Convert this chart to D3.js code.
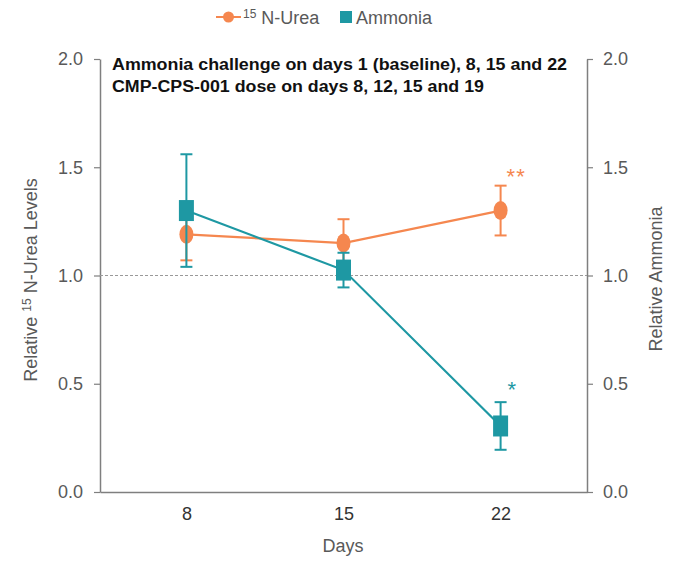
<!DOCTYPE html>
<html>
<head>
<meta charset="utf-8">
<script src="https://cdn.jsdelivr.net/npm/d3@7"></script>
<style>
  body { margin: 0; background: #fff; }
  svg text { font-family: "Liberation Sans", Arial, sans-serif; }
</style>
</head>
<body>
<script>
// data
const days = [8, 15, 22];
const ureaMean = [1.19, 1.15, 1.30];
const ureaErr = [0.12, 0.11, 0.115];
const ammoniaMean = [1.30, 1.025, 0.305];
const ammoniaErr = [0.26, 0.08, 0.11];
const yTicks = [0, 0.5, 1.0, 1.5, 2.0];
const titleLines = ["Ammonia challenge on days 1 (baseline), 8, 15 and 22",
                    "CMP-CPS-001 dose on days 8, 12, 15 and 19"];
const titleWidths = [455, 372];
const ureaStars = ["", "", "**"];
const ammoniaStars = ["", "", "*"];

const W = 682, H = 563;
const orange = "#F5874F", teal = "#1E98A3", axisCol = "#7f7f7f", txtCol = "#595959";

const svg = d3.select("body").append("svg")
  .attr("width", W).attr("height", H);

const x = d3.scalePoint().domain(days).range([100, 587]).padding(0.55);
const y = d3.scaleLinear().domain([0, 2]).range([492, 59]);

// left axis
const left = svg.append("g").attr("transform", "translate(100,0)")
  .call(d3.axisLeft(y).tickValues(yTicks).tickFormat(d3.format(".1f")).tickSize(6).tickSizeOuter(0));
// right axis
const right = svg.append("g").attr("transform", "translate(587,0)")
  .call(d3.axisRight(y).tickValues(yTicks).tickFormat(d3.format(".1f")).tickSize(6).tickSizeOuter(0));
[left, right].forEach(g => {
  g.select(".domain").attr("stroke", axisCol).attr("stroke-width", 1.5);
  g.selectAll(".tick line").attr("stroke", axisCol).attr("stroke-width", 1.2);
  g.selectAll(".tick text").attr("fill", txtCol).style("font-size", "18px");
});
left.selectAll(".tick text").attr("x", -17);
right.selectAll(".tick text").attr("x", 16);

// bottom axis
const bottom = svg.append("g").attr("transform", "translate(0,492)")
  .call(d3.axisBottom(x).tickSize(0).tickSizeOuter(0));
bottom.select(".domain").attr("stroke", axisCol).attr("stroke-width", 1.5);
bottom.selectAll(".tick text").attr("fill", "#333").attr("y", 10).attr("dy", "1em").style("font-size", "18px");

// reference line at 1.0
svg.append("line")
  .attr("x1", 100).attr("x2", 587)
  .attr("y1", y(1)).attr("y2", y(1))
  .attr("stroke", "#999").attr("stroke-width", 1)
  .attr("stroke-dasharray", "3,2");

// axis titles
const lt = svg.append("text")
  .attr("transform", "translate(37,280) rotate(-90)")
  .attr("text-anchor", "middle").attr("fill", txtCol).style("font-size", "18px");
lt.append("tspan").text("Relative ");
lt.append("tspan").text("15").style("font-size", "12px").attr("dy", -6);
lt.append("tspan").text(" N-Urea Levels").attr("dy", 6);

svg.append("text")
  .attr("transform", "translate(662,279) rotate(-90)")
  .attr("text-anchor", "middle").attr("fill", txtCol).style("font-size", "18px")
  .text("Relative Ammonia");

svg.append("text").attr("x", 343).attr("y", 552)
  .attr("text-anchor", "middle").attr("fill", txtCol).style("font-size", "18px")
  .text("Days");

// chart note
svg.selectAll(".note").data(titleLines).join("text")
  .attr("class", "note")
  .attr("x", 112).attr("y", (d, i) => 70 + i * 22)
  .attr("fill", "#111").style("font-size", "16px").style("font-weight", "bold")
  .attr("textLength", (d, i) => titleWidths[i]).attr("lengthAdjust", "spacingAndGlyphs")
  .text(d => d);

const line = d3.line().x(d => x(d[0])).y(d => y(d[1]));

function drawSeries(means, errs, color, shape) {
  const pts = days.map((d, i) => [d, means[i], errs[i]]);
  const g = svg.append("g");
  g.append("path").datum(pts).attr("d", line)
    .attr("fill", "none").attr("stroke", color).attr("stroke-width", 2.2);
  const eb = g.selectAll(".eb").data(pts).join("g");
  eb.append("line")
    .attr("x1", d => x(d[0])).attr("x2", d => x(d[0]))
    .attr("y1", d => y(d[1] - d[2])).attr("y2", d => y(d[1] + d[2]))
    .attr("stroke", color).attr("stroke-width", 2);
  [-1, 1].forEach(s => {
    eb.append("line")
      .attr("x1", d => x(d[0]) - 6).attr("x2", d => x(d[0]) + 6)
      .attr("y1", d => y(d[1] + s * d[2])).attr("y2", d => y(d[1] + s * d[2]))
      .attr("stroke", color).attr("stroke-width", 2);
  });
  if (shape === "circle") {
    g.selectAll(".m").data(pts).join("ellipse")
      .attr("cx", d => x(d[0])).attr("cy", d => y(d[1]))
      .attr("rx", 7).attr("ry", 9.5).attr("fill", color);
  } else {
    g.selectAll(".m").data(pts).join("rect")
      .attr("x", d => x(d[0]) - 7.5).attr("y", d => y(d[1]) - 10.5)
      .attr("width", 15).attr("height", 21).attr("fill", color);
  }
  return pts;
}

drawSeries(ureaMean, ureaErr, orange, "circle");
drawSeries(ammoniaMean, ammoniaErr, teal, "rect");

// significance stars
svg.selectAll(".us").data(days).join("text")
  .attr("x", d => x(d) + 6).attr("y", (d, i) => y(ureaMean[i] + ureaErr[i]) - 2)
  .attr("fill", orange).style("font-size", "22px").attr("letter-spacing", 1)
  .text((d, i) => ureaStars[i]);
svg.selectAll(".as").data(days).join("text")
  .attr("x", d => x(d) + 7).attr("y", (d, i) => y(ammoniaMean[i] + ammoniaErr[i]) - 5)
  .attr("fill", teal).style("font-size", "22px")
  .text((d, i) => ammoniaStars[i]);

// legend
const lg = svg.append("g").attr("transform", "translate(0,17)");
lg.append("line").attr("x1", 216).attr("x2", 241).attr("y1", 0).attr("y2", 0)
  .attr("stroke", orange).attr("stroke-width", 2);
lg.append("circle").attr("cx", 228.5).attr("cy", 0).attr("r", 5.5).attr("fill", orange);
const lt1 = lg.append("text").attr("x", 243).attr("y", 7).attr("fill", txtCol).style("font-size", "18px");
lt1.append("tspan").text("15").style("font-size", "12px").attr("dy", -6);
lt1.append("tspan").text(" N-Urea").attr("dy", 6);
lg.append("rect").attr("x", 340).attr("y", -6).attr("width", 12).attr("height", 12).attr("fill", teal);
lg.append("text").attr("x", 356).attr("y", 7).attr("fill", txtCol).style("font-size", "18px").text("Ammonia");
</script>
</body>
</html>
